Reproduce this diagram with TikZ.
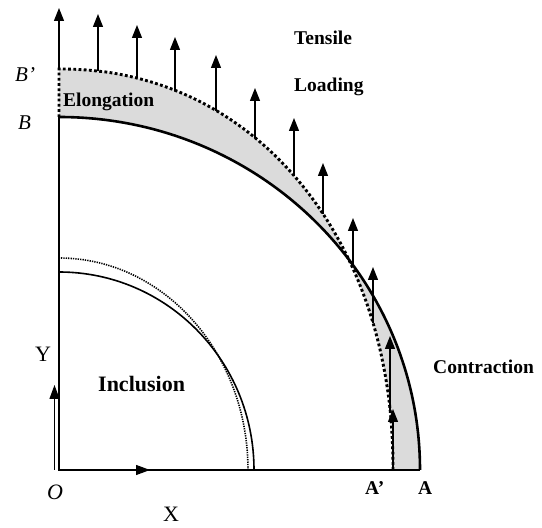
\documentclass[tikz,border=0pt]{standalone}
\usepackage{fontspec}
\setmainfont{Liberation Serif}
\usetikzlibrary{arrows.meta}
\begin{document}
\begin{tikzpicture}[x=1pt,y=1pt,
  lbl/.style={inner sep=0pt, anchor=base west, font=\fontsize{19.5}{22}\selectfont\bfseries},
  axlbl/.style={inner sep=0pt, anchor=base west, font=\fontsize{22}{24}\selectfont},
  itlbl/.style={inner sep=0pt, anchor=base west, font=\fontsize{21}{24}\selectfont\itshape},
  thickline/.style={line width=2.6pt},
  outerdot/.style={line width=2.9pt, dash pattern=on 2.8pt off 2.4pt},
  innerdot/.style={line width=1.6pt, dash pattern=on 1.3pt off 1.1pt},
  load/.style={line width=1.3pt, -{Triangle[width=10pt,length=13pt]}},
  axarrow/.style={line width=1.2pt, -{Triangle[width=10pt,length=14pt]}}]
\useasboundingbox (0,0) rectangle (542,528);
\coordinate (O) at (59,58);
\coordinate (A) at (420,58);
\coordinate (B) at (59,411);
\coordinate (Ap) at (393,58);
\coordinate (Bp) at (59,459);
% shaded difference region
\fill[black!14, even odd rule]
  (O) -- (A) arc[start angle=0, end angle=90, x radius=361, y radius=353] -- cycle
  (O) -- (Ap) -- plot[domain=0.3:89.7, samples=90] ({59+334*cos(\x)^0.952},{58+401*sin(\x)^0.952}) -- (Bp) -- cycle;
% inclusion
\draw[line width=1.6pt] (254,58) arc[start angle=0, end angle=90, x radius=195, y radius=198];
\draw[innerdot] (248,58) arc[start angle=0, end angle=90, x radius=189, y radius=212];
% outer boundaries
\draw[thickline] (A) arc[start angle=0, end angle=90, x radius=361, y radius=353];
\draw[outerdot] (Ap) -- plot[domain=0.3:89.7, samples=90] ({59+334*cos(\x)^0.952},{58+401*sin(\x)^0.952}) -- (Bp) -- (B);
% axes
\draw[thickline] (B) -- (O) -- (A);
\draw[axarrow] (54.5,58) -- (54.5,143);
\draw[axarrow] (O) -- (150,58);
% loading arrows
\draw[load] (59,459) -- (59,520);
\draw[load] (98,457) -- (98,514);
\draw[load] (137,450) -- (137,503);
\draw[load] (175,437) -- (175,491);
\draw[load] (216,417) -- (216,473);
\draw[load] (255,390) -- (255,440);
\draw[load] (294,352) -- (294,410);
\draw[load] (323,314) -- (323,365);
\draw[load] (353,264) -- (353,310);
\draw[load] (373,205) -- (373,261);
\draw[load] (390,118) -- (390,192);
\draw[load] (393,58) -- (393,119);
% labels
\node[lbl] (tens) at (294,483) {Tensile};
\node[lbl] (load) at (294,436) {Loading};
\node[lbl] (elong) at (63,421) {Elongation};
\node[lbl] (contr) at (433,154) {Contraction};
\node[lbl, font=\fontsize{22}{24}\selectfont\bfseries] (incl) at (98,136) {Inclusion};
\node[lbl] (lAp) at (365,33) {A’};
\node[lbl] (lA) at (418,33) {A};
\node[itlbl] (lBp) at (15,446) {B’};
\node[itlbl] (lB) at (18,398) {B};
\node[axlbl] (lY) at (35,166) {Y};
\node[itlbl, font=\fontsize{22}{24}\selectfont\itshape] (lO) at (47,28) {O};
\node[axlbl] (lX) at (163,6) {X};
\end{tikzpicture}
\end{document}
